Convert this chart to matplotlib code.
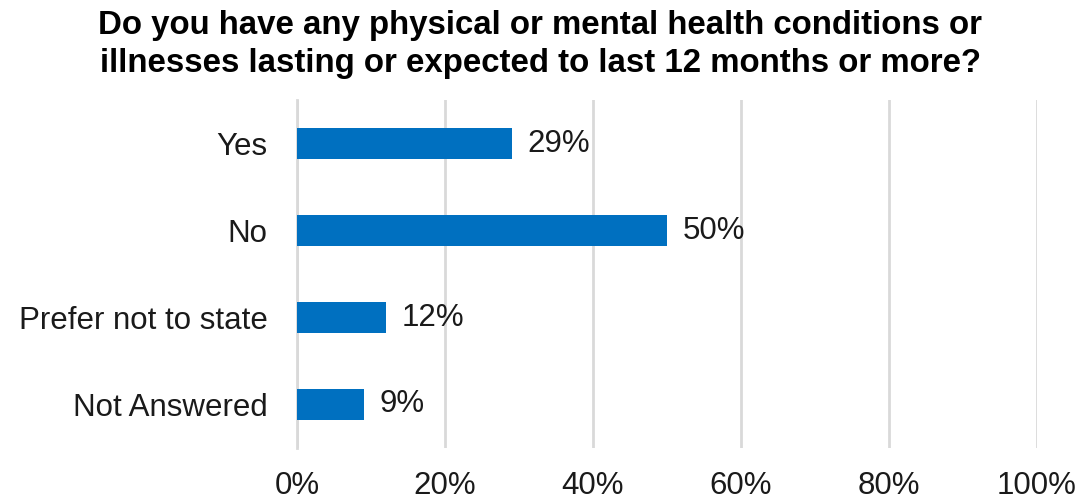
import matplotlib
matplotlib.use("Agg")
import matplotlib.pyplot as plt
from matplotlib.ticker import FixedLocator, FuncFormatter

plt.rcParams['font.family'] = ['Liberation Sans', 'DejaVu Sans']

categories = ["Yes", "No", "Prefer not to state", "Not Answered"]
values = [29, 50, 12, 9]
xticks = [0, 20, 40, 60, 80, 100]
title_lines = ["Do you have any physical or mental health conditions or",
               "illnesses lasting or expected to last 12 months or more?"]

bar_color = "#0070C0"
grid_color = "#D9D9D9"
text_color = "#1A1A1A"

fig = plt.figure(figsize=(10.8, 5.0), dpi=100)
ax = fig.add_axes([0.275, 0.104, 0.685, 0.696])

pos = list(range(len(categories)))
ax.barh(pos, values, height=0.36, color=bar_color, zorder=3)
for p, v in zip(pos, values):
    ax.text(v + 2.1, p, f"{v}%", va="center", ha="left", fontsize=22.5, color=text_color)

ax.set_xlim(0, 100)
ax.set_ylim(len(categories) - 0.5, -0.5)
ax.set_yticks(pos)
ax.set_yticklabels(categories)
ax.xaxis.set_major_locator(FixedLocator(xticks))
ax.xaxis.set_major_formatter(FuncFormatter(lambda x, _: f"{x:.0f}%"))
ax.tick_params(axis="both", length=0, labelsize=22.5, labelcolor=text_color)
ax.tick_params(axis="y", pad=21)
ax.tick_params(axis="x", pad=16.5)
ax.grid(axis="x", color=grid_color, linewidth=2, zorder=0)
for s in ["top", "right", "bottom"]:
    ax.spines[s].set_visible(False)
ax.spines["left"].set_color(grid_color)
ax.spines["left"].set_linewidth(2)

# two-line bold title, one baseline per line
for y, line in zip([0.932, 0.856], title_lines):
    fig.text(0.5, y, line, ha="center", va="baseline", fontsize=23.8,
             fontweight="bold", color="#000000")

fig.savefig("out.png", dpi=100, facecolor="white")
